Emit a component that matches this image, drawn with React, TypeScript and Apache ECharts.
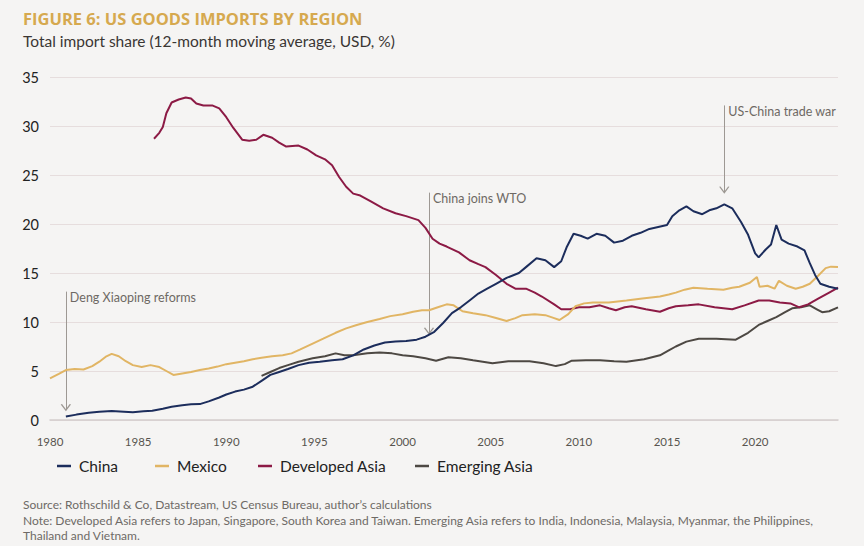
import React, { useEffect, useRef } from "react";
import * as echarts from "echarts";

// ---- data: [year, % share of total US goods imports] ----
const china: [number, number][] = [
  [1980.9, 0.35], [1981.5, 0.55], [1982.2, 0.75], [1982.8, 0.85], [1983.5, 0.92], [1984.2, 0.85],
  [1984.7, 0.8], [1985.3, 0.9], [1985.8, 0.95], [1986.4, 1.15], [1986.9, 1.35], [1987.5, 1.5],
  [1988.0, 1.6], [1988.5, 1.62], [1989.0, 1.9], [1989.6, 2.3], [1990.0, 2.6], [1990.5, 2.9],
  [1991.0, 3.1], [1991.5, 3.4], [1992.0, 4.0], [1992.5, 4.6], [1993.0, 4.9], [1993.5, 5.2],
  [1994.1, 5.6], [1994.7, 5.85], [1995.3, 5.95], [1996.0, 6.1], [1996.6, 6.2], [1997.2, 6.6],
  [1997.8, 7.2], [1998.4, 7.6], [1999.0, 7.9], [1999.6, 8.0], [2000.2, 8.05], [2000.8, 8.2],
  [2001.3, 8.5], [2001.8, 9.0], [2002.3, 9.9], [2002.8, 10.9], [2003.3, 11.5], [2003.8, 12.2],
  [2004.3, 12.9], [2004.8, 13.4], [2005.3, 13.9], [2005.9, 14.5], [2006.6, 15.0], [2007.0, 15.6],
  [2007.6, 16.5], [2008.1, 16.3], [2008.6, 15.6], [2009.0, 16.2], [2009.3, 17.6], [2009.7, 19.0],
  [2010.1, 18.8], [2010.5, 18.5], [2011.0, 19.0], [2011.5, 18.8], [2012.0, 18.1], [2012.5, 18.3],
  [2013.0, 18.8], [2013.5, 19.1], [2014.0, 19.5], [2014.5, 19.7], [2015.0, 19.9], [2015.3, 20.8],
  [2015.7, 21.4], [2016.1, 21.8], [2016.5, 21.3], [2017.0, 21.0], [2017.4, 21.4], [2017.8, 21.6],
  [2018.25, 22.0], [2018.7, 21.6], [2019.2, 20.2], [2019.6, 18.9], [2020.0, 17.0], [2020.2, 16.6],
  [2020.6, 17.4], [2020.9, 17.9], [2021.2, 19.9], [2021.5, 18.4], [2021.9, 18.0], [2022.4, 17.7],
  [2022.8, 17.3], [2023.1, 16.0], [2023.4, 14.8], [2023.7, 13.9], [2024.2, 13.6], [2024.7, 13.4],
];

const mexico: [number, number][] = [
  [1980.0, 4.25], [1980.5, 4.7], [1980.9, 5.1], [1981.4, 5.2], [1981.9, 5.15], [1982.4, 5.5],
  [1982.8, 5.95], [1983.2, 6.5], [1983.5, 6.75], [1983.9, 6.5], [1984.3, 6.0], [1984.7, 5.6],
  [1985.2, 5.4], [1985.7, 5.6], [1986.2, 5.4], [1986.6, 5.0], [1987.0, 4.6], [1987.5, 4.75],
  [1988.0, 4.9], [1988.5, 5.1], [1989.0, 5.25], [1989.5, 5.45], [1990.0, 5.7], [1990.5, 5.85],
  [1991.0, 6.0], [1991.5, 6.2], [1992.0, 6.35], [1992.6, 6.5], [1993.2, 6.6], [1993.7, 6.8],
  [1994.2, 7.2], [1994.9, 7.8], [1995.5, 8.3], [1996.2, 8.9], [1996.8, 9.35], [1997.4, 9.7],
  [1998.0, 10.0], [1998.7, 10.3], [1999.3, 10.6], [2000.0, 10.8], [2000.6, 11.05], [2001.1, 11.2],
  [2001.5, 11.2], [2002.0, 11.5], [2002.5, 11.8], [2002.9, 11.7], [2003.4, 11.1], [2004.0, 10.9],
  [2004.7, 10.7], [2005.3, 10.4], [2005.9, 10.1], [2006.4, 10.4], [2006.8, 10.7], [2007.5, 10.8],
  [2008.1, 10.7], [2008.6, 10.4], [2008.9, 10.2], [2009.4, 10.8], [2009.8, 11.6], [2010.3, 11.9],
  [2010.8, 12.0], [2011.7, 12.0], [2012.7, 12.2], [2013.6, 12.4], [2014.6, 12.6], [2015.1, 12.8],
  [2015.5, 13.0], [2016.0, 13.3], [2016.5, 13.5], [2017.3, 13.4], [2018.2, 13.3], [2018.7, 13.5],
  [2019.1, 13.6], [2019.7, 14.0], [2020.1, 14.6], [2020.25, 13.6], [2020.7, 13.7], [2021.1, 13.4],
  [2021.35, 14.2], [2021.8, 13.7], [2022.3, 13.4], [2022.7, 13.6], [2023.1, 13.9], [2023.5, 14.6],
  [2024.0, 15.5], [2024.3, 15.65], [2024.7, 15.6],
];

const developedAsia: [number, number][] = [
  [1985.9, 28.7], [1986.2, 29.3], [1986.4, 29.9], [1986.6, 31.3], [1986.9, 32.4], [1987.3, 32.7],
  [1987.7, 32.9], [1988.0, 32.8], [1988.3, 32.3], [1988.7, 32.1], [1989.2, 32.1], [1989.6, 31.8],
  [1990.0, 30.9], [1990.4, 29.8], [1990.9, 28.6], [1991.3, 28.5], [1991.7, 28.6], [1992.1, 29.1],
  [1992.6, 28.8], [1993.0, 28.3], [1993.4, 27.9], [1994.1, 28.0], [1994.6, 27.6], [1995.1, 27.0],
  [1995.6, 26.6], [1996.0, 26.0], [1996.4, 24.8], [1996.8, 23.8], [1997.2, 23.1], [1997.6, 22.9],
  [1998.2, 22.3], [1998.9, 21.6], [1999.6, 21.1], [2000.2, 20.8], [2000.9, 20.4], [2001.3, 19.6],
  [2001.7, 18.5], [2002.1, 18.0], [2002.5, 17.7], [2003.2, 17.1], [2003.8, 16.3], [2004.3, 15.9],
  [2004.7, 15.6], [2005.3, 14.8], [2005.9, 13.9], [2006.4, 13.4], [2007.0, 13.4], [2007.5, 13.0],
  [2007.9, 12.6], [2008.6, 11.8], [2009.0, 11.3], [2009.5, 11.3], [2010.0, 11.5], [2010.6, 11.5],
  [2011.2, 11.7], [2011.7, 11.4], [2012.1, 11.2], [2012.6, 11.5], [2013.0, 11.6], [2013.8, 11.3],
  [2014.6, 11.05], [2015.1, 11.4], [2015.5, 11.6], [2016.2, 11.7], [2016.8, 11.8], [2017.7, 11.5],
  [2018.7, 11.3], [2019.4, 11.7], [2020.2, 12.2], [2020.8, 12.2], [2021.4, 12.0], [2022.0, 11.9],
  [2022.5, 11.5], [2023.0, 11.8], [2023.6, 12.4], [2024.2, 13.0], [2024.7, 13.5],
];

const emergingAsia: [number, number][] = [
  [1992.0, 4.5], [1992.5, 4.9], [1993.0, 5.3], [1993.5, 5.6], [1994.1, 5.95], [1994.9, 6.3],
  [1995.6, 6.5], [1996.2, 6.8], [1996.7, 6.6], [1997.2, 6.6], [1998.0, 6.8], [1998.7, 6.9],
  [1999.4, 6.8], [2000.0, 6.6], [2000.6, 6.5], [2001.3, 6.3], [2001.9, 6.05], [2002.6, 6.4],
  [2003.3, 6.3], [2004.0, 6.1], [2005.1, 5.8], [2006.0, 6.0], [2007.2, 6.0], [2008.0, 5.8],
  [2008.7, 5.5], [2009.2, 5.7], [2009.6, 6.05], [2010.4, 6.1], [2011.2, 6.1], [2012.0, 6.0],
  [2012.7, 5.95], [2013.7, 6.2], [2014.6, 6.6], [2015.1, 7.1], [2015.5, 7.5], [2016.1, 8.0],
  [2016.8, 8.3], [2017.8, 8.3], [2018.9, 8.2], [2019.6, 8.9], [2020.2, 9.7], [2020.7, 10.1],
  [2021.2, 10.5], [2021.7, 11.0], [2022.1, 11.4], [2022.6, 11.5], [2023.1, 11.7], [2023.5, 11.3],
  [2023.8, 11.0], [2024.2, 11.1], [2024.7, 11.5],
];

const seriesNames = ["China", "Mexico", "Developed Asia", "Emerging Asia"];

// events: label, year, arrow top value, arrow tip value
const eventLabels = ["Deng Xiaoping reforms", "China joins WTO", "US-China trade war"];
const eventYears = [1980.9, 2001.5, 2018.25];
const eventTops = [13.1, 23.2, 32.1];
const eventTips = [1.0, 8.8, 23.2];

const COLORS = ["#1c2d5c", "#e1b564", "#8c1a45", "#4d4843"];
const BG = "#f5f4f3";
const FONT = "'Source Sans Pro', Lato, sans-serif";

export default function App() {
  const ref = useRef<HTMLDivElement>(null);

  useEffect(() => {
    if (!ref.current) return;
    const chart = echarts.init(ref.current, undefined, { renderer: "svg" });

    const lineSegs = eventYears.map((yr, i) => [
      { coord: [yr, eventTops[i]] },
      { coord: [yr, eventTips[i]] },
    ]);
    const arrowHeads = eventYears.map((yr, i) => ({
      coord: [yr, eventTips[i]],
      symbol: "path://M0,0 L5,6 L10,0",
      symbolSize: [9, 6],
      symbolOffset: [0, "-50%"],
      itemStyle: { color: "none", borderColor: "#9d9893", borderWidth: 1.2 },
      label: { show: false },
    }));
    const textMarks = eventYears.map((yr, i) => ({
      coord: [yr, eventTops[i]],
      symbol: "circle",
      symbolSize: 0,
      symbolOffset: [0, 6],
      itemStyle: { color: "none" },
      label: {
        show: true,
        position: "right",
        distance: 4,
        formatter: eventLabels[i],
        color: "#6e6964",
        fontFamily: FONT,
        fontSize: 12.5,
      },
    }));

    const datasets = [china, mexico, developedAsia, emergingAsia];
    const series: any[] = datasets.map((d, i) => ({
      name: seriesNames[i],
      type: "line",
      data: d,
      showSymbol: false,
      symbol: "none",
      lineStyle: { color: COLORS[i], width: 2 },
      itemStyle: { color: COLORS[i] },
      z: 10 - i,
    }));
    series[0].markLine = {
      silent: true,
      symbol: ["none", "none"],
      label: { show: false },
      lineStyle: { color: "#9d9893", width: 1, type: "solid" },
      data: lineSegs,
    };
    series[0].markPoint = {
      silent: true,
      data: [...arrowHeads, ...textMarks],
    };

    const legendLefts = [57, 155, 258, 415];

    chart.setOption({
      animation: false,
      backgroundColor: BG,
      textStyle: { fontFamily: FONT },
      grid: { left: 50, right: 26, top: 77, bottom: 126, containLabel: false },
      xAxis: {
        type: "value",
        min: 1980,
        max: 2024.7,
        interval: 5,
        axisLine: { show: true, lineStyle: { color: "#d3cdcd", width: 1.5 } },
        axisTick: { show: false },
        splitLine: { show: false },
        axisLabel: {
          showMaxLabel: false,
          color: "#58544f",
          fontSize: 11.5,
          fontFamily: FONT,
          margin: 15,
          formatter: (v: number) => String(v),
        },
      },
      yAxis: {
        type: "value",
        min: 0,
        max: 35,
        interval: 5,
        axisLine: { show: false },
        axisTick: { show: false },
        splitLine: { lineStyle: { color: "#e6dddd", width: 1 } },
        axisLabel: { color: "#222", fontSize: 14.5, fontFamily: FONT, margin: 11 },
      },
      legend: seriesNames.map((n, i) => ({
        data: [n],
        left: legendLefts[i],
        top: 458,
        padding: 0,
        icon: "rect",
        itemWidth: 14,
        itemHeight: 2.5,
        selectedMode: false,
        textStyle: { color: "#222", fontSize: 15.5, fontFamily: FONT, padding: [0, 0, 0, 3] },
      })),
      graphic: [
        {
          type: "text",
          x: 23,
          y: 18,
          style: {
            text: "FIGURE 6: US GOODS IMPORTS BY REGION",
            fill: "#d6a94f",
            font: "bold 16.5px 'Open Sans', Lato, sans-serif",
            verticalAlign: "middle",
          },
        },
        {
          type: "text",
          x: 23,
          y: 41,
          style: {
            text: "Total import share (12-month moving average, USD, %)",
            fill: "#3a3633",
            font: `15.5px ${FONT}`,
            verticalAlign: "middle",
          },
        },
        {
          type: "text",
          x: 23,
          y: 504,
          style: {
            text: "Source: Rothschild & Co, Datastream, US Census Bureau, author\u2019s calculations",
            fill: "#6e6a66",
            font: `12px ${FONT}`,
            verticalAlign: "middle",
          },
        },
        {
          type: "text",
          x: 23,
          y: 520,
          style: {
            text: "Note: Developed Asia refers to Japan, Singapore, South Korea and Taiwan. Emerging Asia refers to India, Indonesia, Malaysia, Myanmar, the Philippines,",
            fill: "#6e6a66",
            font: `12px ${FONT}`,
            verticalAlign: "middle",
          },
        },
        {
          type: "text",
          x: 23,
          y: 535,
          style: {
            text: "Thailand and Vietnam.",
            fill: "#6e6a66",
            font: `12px ${FONT}`,
            verticalAlign: "middle",
          },
        },
      ],
      series,
    });

    return () => chart.dispose();
  }, []);

  return (
    <div
      ref={ref}
      style={{ position: "absolute", left: 0, top: 0, width: 864, height: 546, background: BG }}
    />
  );
}
